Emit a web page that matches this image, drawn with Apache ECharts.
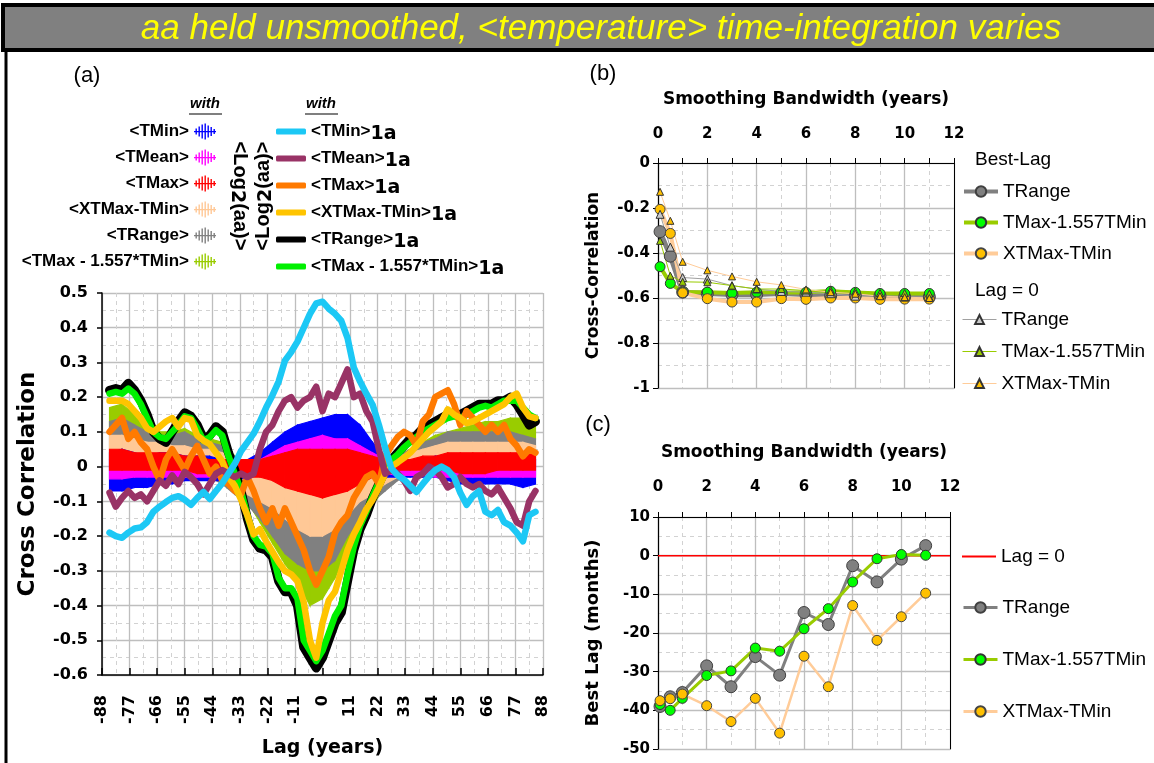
<!DOCTYPE html>
<html><head><meta charset="utf-8">
<script src="https://cdn.jsdelivr.net/npm/echarts@6/dist/echarts.min.js"></script>
<style>html,body{margin:0;padding:0;background:#fff}#c{width:1154px;height:763px}</style>
</head><body><div id="c"></div>
<script>
// ---------- Panel (a): smoothed (1a) series, lag in years ----------
const lagsA = [-85,-82.5,-80,-77.5,-75,-72.5,-70,-67.5,-65,-62.5,-60,-57.5,-55,-52.5,-50,-47.5,-45,-42.5,-40,-37.5,-35,-32.5,-30,-27.5,-25,-22.5,-20,-17.5,-15,-12.5,-10,-7.5,-5,-2.5,0,2.5,5,7.5,10,12.5,15,17.5,20,22.5,25,27.5,30,32.5,35,37.5,40,42.5,45,47.5,50,52.5,55,57.5,60,62.5,65,67.5,70,72.5,75,77.5,80,82.5,85];
const tmin1a = [-0.19,-0.20,-0.205,-0.19,-0.178,-0.175,-0.16,-0.13,-0.115,-0.102,-0.09,-0.085,-0.095,-0.11,-0.09,-0.073,-0.093,-0.07,-0.048,-0.02,0.008,0.045,0.07,0.095,0.13,0.17,0.205,0.245,0.305,0.33,0.36,0.40,0.44,0.47,0.475,0.455,0.44,0.42,0.37,0.285,0.245,0.21,0.178,0.12,0.055,-0.005,-0.025,-0.037,-0.055,-0.073,-0.05,-0.028,-0.01,0.0,-0.01,-0.03,-0.075,-0.11,-0.085,-0.07,-0.13,-0.14,-0.125,-0.16,-0.17,-0.19,-0.215,-0.14,-0.13];
const tmean1a = [-0.075,-0.115,-0.09,-0.07,-0.09,-0.08,-0.1,-0.07,-0.04,-0.055,-0.025,-0.05,-0.015,-0.03,-0.05,-0.08,-0.05,-0.02,-0.01,-0.02,-0.03,-0.02,-0.03,-0.02,0.05,0.1,0.12,0.16,0.19,0.2,0.17,0.19,0.2,0.23,0.16,0.21,0.2,0.24,0.28,0.2,0.21,0.16,0.13,0.05,-0.02,-0.01,-0.02,-0.04,-0.07,-0.03,-0.02,0.0,-0.01,-0.03,-0.06,-0.05,-0.03,-0.05,-0.06,-0.05,-0.07,-0.08,-0.06,-0.09,-0.12,-0.16,-0.17,-0.1,-0.07];
const tmax1a = [0.10,0.12,0.14,0.08,0.10,0.07,0.05,0.0,-0.04,0.02,0.05,0.02,-0.01,0.03,0.06,0.02,-0.02,0.0,-0.04,-0.05,-0.07,-0.08,-0.03,-0.07,-0.12,-0.16,-0.12,-0.17,-0.12,-0.16,-0.2,-0.24,-0.3,-0.34,-0.3,-0.26,-0.19,-0.16,-0.14,-0.09,-0.06,-0.03,-0.02,-0.05,0.03,0.06,0.085,0.1,0.09,0.06,0.13,0.15,0.2,0.21,0.22,0.18,0.12,0.16,0.14,0.12,0.1,0.12,0.1,0.12,0.08,0.06,0.03,0.05,0.04];
const xtmaxTmin1a = [0.19,0.19,0.19,0.18,0.16,0.14,0.11,0.10,0.115,0.13,0.14,0.115,0.14,0.135,0.09,0.075,0.065,0.04,0.015,-0.03,-0.055,-0.095,-0.14,-0.195,-0.18,-0.215,-0.245,-0.275,-0.3,-0.31,-0.33,-0.39,-0.5,-0.55,-0.45,-0.385,-0.36,-0.3,-0.24,-0.195,-0.16,-0.122,-0.095,-0.06,-0.02,0.0,0.012,0.025,0.04,0.06,0.08,0.1,0.115,0.13,0.165,0.15,0.14,0.125,0.13,0.14,0.15,0.16,0.17,0.18,0.2,0.21,0.17,0.145,0.14];
const trange1a = [0.22,0.225,0.22,0.24,0.22,0.19,0.15,0.1,0.08,0.07,0.1,0.13,0.155,0.145,0.12,0.08,0.09,0.115,0.1,0.04,-0.01,-0.07,-0.15,-0.21,-0.235,-0.24,-0.26,-0.33,-0.36,-0.36,-0.4,-0.52,-0.55,-0.58,-0.55,-0.5,-0.45,-0.42,-0.33,-0.24,-0.18,-0.14,-0.09,-0.05,-0.01,0.02,0.04,0.06,0.08,0.09,0.11,0.12,0.13,0.14,0.15,0.15,0.15,0.16,0.17,0.18,0.18,0.18,0.19,0.19,0.2,0.18,0.15,0.12,0.13];
const tmaxMin1a = [0.21,0.215,0.21,0.225,0.21,0.18,0.14,0.1,0.085,0.08,0.1,0.12,0.145,0.14,0.11,0.075,0.085,0.105,0.09,0.03,-0.02,-0.07,-0.14,-0.2,-0.225,-0.23,-0.25,-0.32,-0.35,-0.35,-0.38,-0.5,-0.53,-0.56,-0.53,-0.48,-0.43,-0.4,-0.31,-0.23,-0.17,-0.13,-0.085,-0.045,-0.005,0.02,0.035,0.055,0.07,0.085,0.1,0.11,0.12,0.13,0.14,0.145,0.14,0.15,0.16,0.17,0.175,0.17,0.18,0.19,0.19,0.19,0.17,0.15,0.14];

// ---------- Panel (a): unsmoothed series, envelope of the noise ----------
const lagsB = [-85,-80,-75,-70,-65,-60,-55,-50,-45,-40,-35,-30,-25,-20,-15,-10,-5,0,5,10,15,20,25,30,35,40,45,50,55,60,65,70,75,80,85];
const tminUp = [0.04,0.05,0.04,0.03,0.04,0.04,0.03,0.03,0.03,0.02,0.02,0.02,0.04,0.07,0.1,0.12,0.13,0.14,0.15,0.15,0.12,0.07,0.03,0.01,0.01,0.02,0.03,0.03,0.03,0.03,0.03,0.03,0.03,0.02,0.02];
const tminLo = [-0.07,-0.07,-0.06,-0.06,-0.05,-0.05,-0.04,-0.04,-0.04,-0.04,-0.04,-0.03,-0.02,-0.02,-0.02,-0.03,-0.03,-0.03,-0.03,-0.02,-0.02,-0.02,-0.03,-0.03,-0.03,-0.03,-0.03,-0.04,-0.05,-0.05,-0.05,-0.05,-0.05,-0.06,-0.05];
const tmeanUp = [0.02,0.03,0.02,0.02,0.02,0.02,0.02,0.02,0.01,0.01,0.01,0.01,0.02,0.04,0.06,0.07,0.08,0.09,0.08,0.08,0.06,0.04,0.02,0.01,0.01,0.01,0.02,0.02,0.02,0.02,0.02,0.02,0.02,0.02,0.02];
const tmeanLo = [-0.035,-0.035,-0.03,-0.03,-0.03,-0.03,-0.03,-0.03,-0.03,-0.03,-0.03,-0.025,-0.02,-0.02,-0.02,-0.02,-0.02,-0.02,-0.02,-0.02,-0.02,-0.02,-0.02,-0.025,-0.025,-0.025,-0.03,-0.03,-0.03,-0.03,-0.03,-0.03,-0.03,-0.03,-0.03];
const tmaxUp = [0.05,0.05,0.04,0.04,0.04,0.04,0.03,0.03,0.02,0.02,0.02,0.02,0.02,0.03,0.04,0.05,0.05,0.05,0.05,0.05,0.04,0.03,0.02,0.02,0.02,0.03,0.03,0.04,0.04,0.04,0.04,0.04,0.04,0.04,0.04];
const tmaxLo = [-0.01,-0.01,-0.01,-0.01,-0.01,-0.01,-0.01,-0.02,-0.02,-0.02,-0.03,-0.03,-0.03,-0.04,-0.06,-0.07,-0.08,-0.09,-0.08,-0.07,-0.05,-0.03,-0.02,-0.01,-0.01,-0.01,-0.01,-0.01,-0.02,-0.02,-0.02,-0.01,-0.01,-0.01,-0.01];
const xtUp = [0.09,0.09,0.08,0.07,0.07,0.06,0.06,0.05,0.05,0.04,0.02,0.0,-0.02,-0.04,-0.05,-0.06,-0.06,-0.06,-0.05,-0.03,-0.02,-0.01,0.01,0.03,0.04,0.05,0.06,0.07,0.07,0.07,0.07,0.07,0.07,0.07,0.06];
const xtLo = [0.0,0.0,0.0,-0.01,-0.01,-0.01,-0.01,-0.02,-0.03,-0.04,-0.06,-0.08,-0.1,-0.12,-0.15,-0.18,-0.2,-0.2,-0.18,-0.14,-0.1,-0.08,-0.05,-0.03,-0.02,-0.01,0.0,0.0,0.0,0.0,0.0,0.0,0.0,0.0,0.0];
const trangeUp = [0.13,0.14,0.12,0.1,0.09,0.09,0.1,0.08,0.07,0.06,0.03,0.0,-0.03,-0.06,-0.09,-0.1,-0.12,-0.12,-0.1,-0.07,-0.05,-0.03,0.0,0.03,0.05,0.07,0.08,0.1,0.1,0.1,0.1,0.1,0.1,0.09,0.08];
const trangeLo = [0.02,0.02,0.01,0.0,0.0,0.0,-0.01,-0.02,-0.03,-0.05,-0.08,-0.11,-0.15,-0.2,-0.25,-0.28,-0.3,-0.3,-0.27,-0.2,-0.15,-0.1,-0.07,-0.04,-0.02,0.0,0.01,0.02,0.02,0.03,0.03,0.03,0.03,0.03,0.02];
const tmmUp = [0.17,0.18,0.15,0.12,0.1,0.1,0.11,0.09,0.08,0.07,0.03,-0.03,-0.1,-0.15,-0.2,-0.23,-0.27,-0.27,-0.22,-0.15,-0.1,-0.06,-0.01,0.03,0.05,0.07,0.09,0.1,0.11,0.12,0.13,0.13,0.14,0.14,0.12];
const tmmLo = [0.1,0.1,0.08,0.05,0.03,0.03,0.03,0.02,0.01,-0.01,-0.05,-0.1,-0.16,-0.22,-0.28,-0.33,-0.4,-0.38,-0.32,-0.24,-0.17,-0.11,-0.06,-0.02,0.0,0.02,0.04,0.05,0.06,0.07,0.07,0.08,0.08,0.08,0.08];

// ---------- Panels (b) and (c) ----------
const bandwidth = [0.083,0.5,1,2,3,4,5,6,7,8,9,10,11];
const ccBestTRange = [-0.305,-0.414,-0.574,-0.58,-0.585,-0.585,-0.58,-0.585,-0.59,-0.59,-0.59,-0.595,-0.595];
const ccBestTMaxMin = [-0.461,-0.535,-0.574,-0.574,-0.578,-0.574,-0.575,-0.575,-0.57,-0.575,-0.58,-0.58,-0.58];
const ccBestXT = [-0.206,-0.313,-0.577,-0.603,-0.618,-0.618,-0.603,-0.606,-0.6,-0.6,-0.606,-0.605,-0.605];
const cc0TRange = [-0.228,-0.374,-0.509,-0.516,-0.545,-0.56,-0.571,-0.574,-0.581,-0.592,-0.589,-0.596,-0.596];
const cc0TMaxMin = [-0.346,-0.501,-0.528,-0.53,-0.545,-0.56,-0.56,-0.567,-0.564,-0.571,-0.578,-0.578,-0.581];
const cc0XT = [-0.128,-0.257,-0.439,-0.477,-0.504,-0.528,-0.542,-0.562,-0.574,-0.581,-0.592,-0.596,-0.6];
const bestLagTRange = [-39,-36.5,-35.4,-28.5,-33.9,-26.1,-30.9,-14.7,-17.8,-2.6,-6.8,-0.9,2.6];
const bestLagTMaxMin = [-38.5,-40,-36.9,-31,-29.8,-23.9,-24.7,-18.9,-13.7,-6.8,-0.8,0.3,0.1];
const bestLagXT = [-37.5,-37,-35.8,-38.8,-42.9,-36.9,-45.9,-26,-33.9,-12.9,-21.9,-15.8,-9.7];
const lagZeroX = [0, 12];
const lagZeroY = [0, 0];

// ---------- build ----------
const F = "'Liberation Sans', Arial, sans-serif";
const FV = "'DejaVu Sans', Verdana, sans-serif";
const P = (xs, ys) => xs.map((x, i) => [x, ys[i]]);
const chart = echarts.init(document.getElementById('c'));

const bandDefs = [
  {name:'<TMax - 1.557*TMin>', up:tmmUp, lo:tmmLo, color:'#99CC00'},
  {name:'<TRange>', up:trangeUp, lo:trangeLo, color:'#808080'},
  {name:'<XTMax-TMin>', up:xtUp, lo:xtLo, color:'#FFC896'},
  {name:'<TMin>', up:tminUp, lo:tminLo, color:'#0000FF'},
  {name:'<TMean>', up:tmeanUp, lo:tmeanLo, color:'#FF00FF'},
  {name:'<TMax>', up:tmaxUp, lo:tmaxLo, color:'#FF0000'}
];
const lineDefs = [
  {name:'<TRange>1a', d:trange1a, color:'#000000', w:9},
  {name:'<TMax - 1.557*TMin>1a', d:tmaxMin1a, color:'#00F000', w:6.5},
  {name:'<TMax>1a', d:tmax1a, color:'#FF7A00', w:6.5},
  {name:'<XTMax-TMin>1a', d:xtmaxTmin1a, color:'#FFC400', w:6.5},
  {name:'<TMean>1a', d:tmean1a, color:'#993366', w:6.5},
  {name:'<TMin>1a', d:tmin1a, color:'#1CC8F5', w:6.5}
];
const series = [];
bandDefs.forEach(b => {
  const segs = lagsB.slice(0, -1).map((x, i) => [x, b.lo[i], b.up[i], lagsB[i + 1], b.lo[i + 1], b.up[i + 1]]);
  series.push({type:'custom', name:b.name, xAxisIndex:0, yAxisIndex:0, data:segs, color:b.color,
    itemStyle:{color:b.color}, encode:{x:[0, 3], y:[1, 2, 4, 5]}, silent:true,
    renderItem:(params, api) => {
      const pts = [api.coord([api.value(0), api.value(2)]), api.coord([api.value(3), api.value(5)]),
                   api.coord([api.value(3), api.value(4)]), api.coord([api.value(0), api.value(1)])];
      return {type:'polygon', shape:{points:pts}, style:{fill:b.color, stroke:b.color, lineWidth:1.2}};
    }});
});
lineDefs.forEach(l => {
  series.push({type:'line', name:l.name, xAxisIndex:0, yAxisIndex:0, data:P(lagsA, l.d), symbol:'none',
    color:l.color, itemStyle:{color:l.color}, lineStyle:{width:l.w, color:l.color, join:'round', cap:'round'}, silent:true});
});
function ptSeries(name, xi, yi, ys, lc, lw, sym, ss, fill, border) {
  return {type:'line', name, xAxisIndex:xi, yAxisIndex:yi, data:P(bandwidth, ys), symbol:sym, symbolSize:ss,
    color:fill, lineStyle:{color:lc, width:lw}, itemStyle:{color:fill, borderColor:border, borderWidth:1}, silent:true};
}
series.push(ptSeries('TRange|b', 1, 1, ccBestTRange, '#808080', 5, 'circle', 12, '#808080', '#404040'));
series.push(ptSeries('TMax-1.557TMin|b', 1, 1, ccBestTMaxMin, '#99CC00', 4, 'circle', 10, '#00FF00', '#333'));
series.push(ptSeries('XTMax-TMin|b', 1, 1, ccBestXT, '#FFCC99', 4, 'circle', 10, '#FFC000', '#444'));
series.push(ptSeries('TRange|b0', 1, 1, cc0TRange, '#A0A0A0', 1, 'triangle', 8, '#C8C8C8', '#333'));
series.push(ptSeries('TMax-1.557TMin|b0', 1, 1, cc0TMaxMin, '#99CC00', 1, 'triangle', 7, '#99CC00', '#333'));
series.push(ptSeries('XTMax-TMin|b0', 1, 1, cc0XT, '#FFCC99', 1, 'triangle', 7, '#FFC000', '#333'));
series.push({type:'line', name:'Lag = 0|c', xAxisIndex:2, yAxisIndex:3, data:P(lagZeroX, lagZeroY), symbol:'none',
  color:'#FF0000', lineStyle:{color:'#FF0000', width:1.5}, itemStyle:{color:'#FF0000'}, silent:true});
series.push(ptSeries('TRange|c', 2, 3, bestLagTRange, '#808080', 3, 'circle', 12, '#808080', '#404040'));
series.push(ptSeries('TMax-1.557TMin|c', 2, 3, bestLagTMaxMin, '#99CC00', 3, 'circle', 10, '#00FF00', '#333'));
series.push(ptSeries('XTMax-TMin|c', 2, 3, bestLagXT, '#FFCC99', 2.5, 'circle', 10, '#FFC000', '#444'));

const major = {lineStyle:{color:'#BEBEBE', width:1.3}};
const minor = {show:true, lineStyle:{color:'#D2D2D2', width:1, type:[4,4]}};
const labV = s => ({fontFamily:FV, fontWeight:'bold', fontSize:s, color:'#000'});
const blackLine = w => ({show:true, onZero:false, lineStyle:{color:'#000', width:w}});

const noisyIcon = 'path://M0,7.4h22v1.3h-22z M1.5,5h1.4v6h-1.4z M4.5,3h1.4v10h-1.4z M7.5,1h1.4v14h-1.4z M10.5,0h1.4v16h-1.4z M13.5,2h1.4v12h-1.4z M16.5,3.5h1.4v9h-1.4z M19.5,5.5h1.4v5h-1.4z';

const option = {
  animation:false,
  backgroundColor:'#fff',
  grid:[
    {left:102, top:293, width:441, height:384},
    {left:658, top:163, width:296, height:225},
    {left:658, top:517, width:292, height:232}
  ],
  xAxis:[
    {gridIndex:0, type:'value', min:-88, max:88, interval:11, position:'bottom',
     axisLine:blackLine(1.5), axisTick:{inside:true, length:7, lineStyle:{color:'#000', width:1.5}},
     minorTick:{show:false, splitNumber:2}, minorSplitLine:minor, splitLine:major,
     axisLabel:Object.assign(labV(16), {rotate:90, margin:20}),
     name:'Lag (years)', nameLocation:'middle', nameGap:64, nameTextStyle:labV(19)},
    {gridIndex:1, type:'value', min:0, max:12, interval:2, position:'top',
     axisLine:blackLine(1.2), axisTick:{length:5, lineStyle:{color:'#000'}},
     minorTick:{show:true, splitNumber:2, length:5, lineStyle:{color:'#000'}}, minorSplitLine:minor, splitLine:major,
     axisLabel:Object.assign(labV(15), {margin:21}),
     name:'Smoothing Bandwidth (years)', nameLocation:'middle', nameGap:55, nameTextStyle:labV(17)},
    {gridIndex:2, type:'value', min:0, max:12, interval:2, position:'top',
     axisLine:blackLine(1.2), axisTick:{length:5, lineStyle:{color:'#000'}},
     minorTick:{show:true, splitNumber:2, length:5, lineStyle:{color:'#000'}}, minorSplitLine:minor, splitLine:major,
     axisLabel:Object.assign(labV(15), {margin:22}),
     name:'Smoothing Bandwidth (years)', nameLocation:'middle', nameGap:56, nameTextStyle:labV(17)}
  ],
  yAxis:[
    {gridIndex:0, type:'value', min:-0.6, max:0.5, interval:0.1,
     axisLine:blackLine(1.5), axisTick:{show:true, length:5, lineStyle:{color:'#000', width:1.5}},
     minorTick:{show:false, splitNumber:2}, minorSplitLine:minor, splitLine:major,
     axisLabel:Object.assign(labV(16), {margin:14}),
     name:'Cross Correlation', nameLocation:'middle', nameRotate:90, nameGap:62, nameTextStyle:labV(23)},
    {gridIndex:1, type:'value', min:-1, max:0, interval:0.2,
     axisLine:blackLine(1.2), axisTick:{show:true, length:5, lineStyle:{color:'#000'}},
     minorTick:{show:false, splitNumber:2}, minorSplitLine:minor, splitLine:major,
     axisLabel:Object.assign(labV(15), {margin:8}),
     name:'Cross-Correlation', nameLocation:'middle', nameRotate:90, nameGap:56, nameTextStyle:labV(17)},
    {gridIndex:1, type:'value', min:-1, max:0, interval:0.2, position:'right',
     axisLine:blackLine(1), axisTick:{show:false}, axisLabel:{show:false}, splitLine:{show:false}},
    {gridIndex:2, type:'value', min:-50, max:10, interval:10,
     axisLine:blackLine(1.2), axisTick:{show:true, length:5, lineStyle:{color:'#000'}},
     minorTick:{show:false, splitNumber:2}, minorSplitLine:minor, splitLine:major,
     axisLabel:Object.assign(labV(15), {margin:8}),
     name:'Best Lag (months)', nameLocation:'middle', nameRotate:90, nameGap:56, nameTextStyle:labV(18)},
    {gridIndex:2, type:'value', min:-50, max:10, interval:10, position:'right',
     axisLine:blackLine(1), axisTick:{show:false}, axisLabel:{show:false}, splitLine:{show:false}}
  ],
  legend:[
    {data:['<TMin>','<TMean>','<TMax>','<XTMax-TMin>','<TRange>','<TMax - 1.557*TMin>'],
     orient:'vertical', align:'right', right:1154-216, top:123, itemWidth:22, itemHeight:16, itemGap:9,
     icon:noisyIcon, padding:0, selectedMode:false, itemStyle:{borderWidth:0},
     textStyle:{fontFamily:F, fontWeight:'bold', fontSize:17, color:'#000'}},
    {data:['<TMin>1a','<TMean>1a','<TMax>1a','<XTMax-TMin>1a','<TRange>1a','<TMax - 1.557*TMin>1a'],
     orient:'vertical', left:276, top:123, itemWidth:30, itemHeight:6, itemGap:6.5, icon:'roundRect',
     padding:0, selectedMode:false, itemStyle:{borderWidth:0},
     formatter:n => n.replace('1a', '') + '{s|1a}',
     textStyle:{fontFamily:F, fontWeight:'bold', fontSize:17, color:'#000',
       rich:{s:{fontFamily:FV, fontWeight:'bold', fontSize:19, color:'#000', padding:[5,0,0,0]}}}},
    {data:['TRange|b','TMax-1.557TMin|b','XTMax-TMin|b'], orient:'vertical', left:962, top:182,
     itemWidth:34, itemHeight:13, itemGap:12, padding:0, selectedMode:false,
     lineStyle:{width:4}, formatter:n => n.split('|')[0], textStyle:{fontFamily:F, fontSize:19, color:'#000'}},
    {data:['TRange|b0','TMax-1.557TMin|b0','XTMax-TMin|b0'], orient:'vertical', left:962, top:310,
     itemWidth:34, itemHeight:11, itemGap:13, padding:0, selectedMode:false,
     lineStyle:{width:1}, formatter:n => n.split('|')[0], textStyle:{fontFamily:F, fontSize:19, color:'#000'}},
    {data:['Lag = 0|c'], orient:'vertical', left:962, top:547, itemWidth:34, itemHeight:2, icon:'rect',
     padding:0, selectedMode:false, itemStyle:{borderWidth:0},
     formatter:n => n.split('|')[0], textStyle:{fontFamily:F, fontSize:19, color:'#000'}},
    {data:['TRange|c','TMax-1.557TMin|c','XTMax-TMin|c'], orient:'vertical', left:962, top:598,
     itemWidth:34, itemHeight:13, itemGap:33, padding:0, selectedMode:false,
     lineStyle:{width:3}, formatter:n => n.split('|')[0], textStyle:{fontFamily:F, fontSize:19, color:'#000'}}
  ],
  graphic:[
    {type:'rect', shape:{x:3, y:5, width:1165, height:45}, style:{fill:'#808080', stroke:'#000', lineWidth:4}, silent:true},
    {type:'text', x:601, y:29, style:{text:'aa held unsmoothed, <temperature> time-integration varies', fill:'#FFFF00',
      font:"italic 35px 'Liberation Sans', Arial", align:'center', verticalAlign:'middle'}, silent:true},
    {type:'line', shape:{x1:6, y1:50, x2:6, y2:763}, style:{stroke:'#000', lineWidth:3}, silent:true},
    {type:'text', x:87, y:76, style:{text:'(a)', fill:'#000', font:"22px 'Liberation Sans'", align:'center', verticalAlign:'middle'}},
    {type:'text', x:603, y:74, style:{text:'(b)', fill:'#000', font:"22px 'Liberation Sans'", align:'center', verticalAlign:'middle'}},
    {type:'text', x:598, y:425, style:{text:'(c)', fill:'#000', font:"22px 'Liberation Sans'", align:'center', verticalAlign:'middle'}},
    {type:'text', x:205, y:104, style:{text:'with', fill:'#000', font:"italic bold 15px 'Liberation Sans'", align:'center', verticalAlign:'middle'}},
    {type:'line', shape:{x1:189, y1:114, x2:222, y2:114}, style:{stroke:'#000', lineWidth:1.2}},
    {type:'text', x:321, y:104, style:{text:'with', fill:'#000', font:"italic bold 15px 'Liberation Sans'", align:'center', verticalAlign:'middle'}},
    {type:'line', shape:{x1:305, y1:114, x2:338, y2:114}, style:{stroke:'#000', lineWidth:1.2}},
    {type:'text', x:240, y:196, rotation:-Math.PI/2, style:{text:'<Log{s|2}(aa)>', fill:'#000', font:"bold 20px 'Liberation Sans'",
      align:'center', verticalAlign:'middle', rich:{s:{fontFamily:FV, fontWeight:'bold', fontSize:19, padding:[7,0,0,0]}}}},
    {type:'text', x:263, y:196, rotation:Math.PI/2, style:{text:'<Log{s|2}(aa)>', fill:'#000', font:"bold 20px 'Liberation Sans'",
      align:'center', verticalAlign:'middle', rich:{s:{fontFamily:FV, fontWeight:'bold', fontSize:19, padding:[7,0,0,0]}}}},
    {type:'text', x:975, y:160, style:{text:'Best-Lag', fill:'#000', font:"19px 'Liberation Sans'", align:'left', verticalAlign:'middle'}},
    {type:'text', x:975, y:291, style:{text:'Lag = 0', fill:'#000', font:"19px 'Liberation Sans'", align:'left', verticalAlign:'middle'}}
  ],
  series
};
chart.setOption(option);
</script>
</body></html>
